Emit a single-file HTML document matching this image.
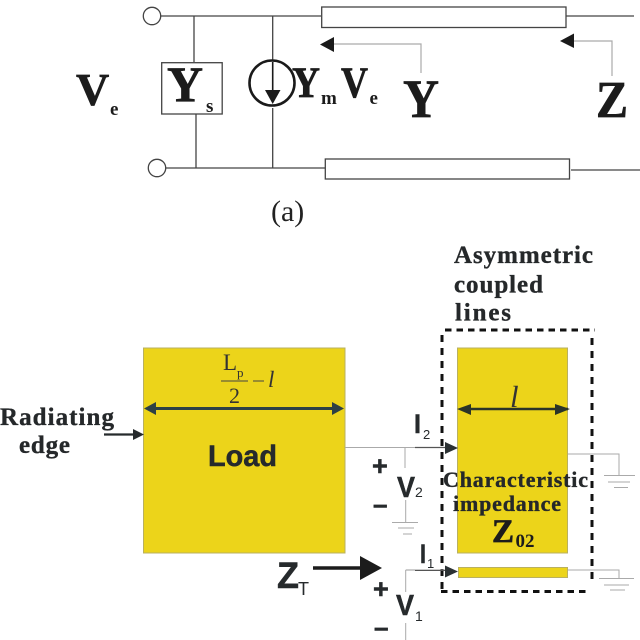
<!DOCTYPE html>
<html>
<head>
<meta charset="utf-8">
<style>
html,body{margin:0;padding:0;background:#fff}
svg{display:block}
.s{font-family:"Liberation Serif",serif;font-weight:bold;fill:#1c1c1c;stroke:#1c1c1c;stroke-width:.7}
.e{font-family:"Liberation Serif",serif;font-weight:bold;fill:#1c1c1c}
.a{font-family:"Liberation Sans",sans-serif;font-weight:bold;fill:#262a2c;stroke:#262a2c;stroke-width:.5}
.b{font-family:"Liberation Sans",sans-serif;fill:#262a2c}
.t{font-family:"Liberation Serif",serif;font-weight:bold;fill:#25282a;stroke:#25282a;stroke-width:.35}
.m{font-family:"Liberation Serif",serif;fill:#333}
</style>
</head>
<body>
<svg width="640" height="640" viewBox="0 0 640 640" xmlns="http://www.w3.org/2000/svg">
<rect width="640" height="640" fill="#fff"/>
<!-- circuit (a) -->
<g fill="none" stroke="#444" stroke-width="1.300">
<path d="M161 16H321M566 16H634M166 168H325M571 170H640"/>
<path d="M194 16V62M272.700 16V61M272.700 108V168M196 114V168"/>
<circle cx="152" cy="16" r="8.700"/>
<circle cx="157" cy="168" r="8.700"/>
<rect x="321.700" y="7" width="244.300" height="20.500"/>
<rect x="325.300" y="159" width="244.200" height="20"/>
<rect x="161.700" y="62.700" width="60.500" height="51.300"/>
</g>
<circle cx="272" cy="83" r="22.500" fill="none" stroke="#1a1a1a" stroke-width="2.600"/>
<path d="M272.700 62V92" stroke="#1a1a1a" stroke-width="1.600"/>
<path d="M265 90H280.500L272.700 104Z" fill="#1a1a1a"/>
<path d="M334 44H421V73M574 41H612V76" fill="none" stroke="#aaa" stroke-width="1.200"/>
<path d="M320 44.500L334 37V52Z M560 41L574 33.500V48Z" fill="#1a1a1a"/>
<text class="s" x="76" y="105" font-size="46">V</text>
<text class="e" x="110" y="115" font-size="19">e</text>
<text class="s" x="167" y="101" font-size="50" textLength="36" lengthAdjust="spacingAndGlyphs">Y</text>
<text class="e" x="206" y="112" font-size="19">s</text>
<text class="s" x="292" y="97" font-size="43" textLength="28" lengthAdjust="spacingAndGlyphs">Y</text>
<text class="e" x="321" y="104" font-size="19">m</text>
<text class="s" x="341" y="97" font-size="43" textLength="27" lengthAdjust="spacingAndGlyphs">V</text>
<text class="e" x="369.500" y="104" font-size="19">e</text>
<text class="s" x="403" y="117" font-size="54" textLength="36" lengthAdjust="spacingAndGlyphs">Y</text>
<text class="s" x="596" y="117" font-size="52" textLength="32" lengthAdjust="spacingAndGlyphs">Z</text>
<text x="271" y="221" font-family="'Liberation Serif',serif" font-size="30" fill="#222">(a)</text>

<!-- patch -->
<rect x="143.500" y="348" width="201.500" height="205" fill="#ecd41a" stroke="#b9b060" stroke-width="1"/>
<rect x="457.500" y="348" width="110" height="205" fill="#ecd41a" stroke="#b9b060" stroke-width="1"/>
<rect x="458.500" y="567.500" width="109" height="10" fill="#ecd41a" stroke="#b9b060" stroke-width="1"/>

<!-- dashed box -->
<path d="M445 330H595" fill="none" stroke="#111" stroke-width="3" stroke-dasharray="6.500 5"/>
<path d="M442 335V592M592 338V584" fill="none" stroke="#111" stroke-width="3" stroke-dasharray="7 6"/>
<path d="M441 591.500H590" fill="none" stroke="#111" stroke-width="3" stroke-dasharray="6.500 5"/>

<!-- fraction -->
<text class="m" x="223" y="370" font-size="23">L</text>
<text class="m" x="237" y="377" font-size="13">p</text>
<path d="M221 381H248M253 381H264" stroke="#444" stroke-width="1"/>
<text class="m" x="229" y="403" font-size="22">2</text>
<text class="m" x="268" y="387" font-style="italic" font-size="23">l</text>

<!-- dim arrows -->
<path d="M155 408.500H334" stroke="#2d4045" stroke-width="3"/>
<path d="M144 408.500L156 402V415Z M344 408.500L332 402V415Z" fill="#2d4045"/>
<path d="M468 409H568" stroke="#2a3428" stroke-width="2.500"/>
<path d="M457 409L471 404V415Z M570 409L555 404V415Z" fill="#2a3428"/>
<text class="m" x="510" y="407" font-style="italic" font-size="31" fill="#222">l</text>

<!-- radiating edge -->
<text class="t" x="0" y="425" font-size="25" textLength="114" lengthAdjust="spacing">Radiating</text>
<text class="t" x="19" y="453" font-size="25" textLength="51" lengthAdjust="spacing">edge</text>
<path d="M104 434.500H134" stroke="#262a2c" stroke-width="2.200"/>
<path d="M144 434.500L133 429V440Z" fill="#262a2c"/>
<text class="a" x="208" y="466" font-size="30" textLength="69" lengthAdjust="spacingAndGlyphs">Load</text>

<!-- title -->
<text class="t" x="454" y="263" font-size="25" textLength="139" lengthAdjust="spacing">Asymmetric</text>
<text class="t" x="454" y="292.500" font-size="25" textLength="89" lengthAdjust="spacing">coupled</text>
<text class="t" x="455" y="320.500" font-size="25" textLength="56" lengthAdjust="spacing">lines</text>

<!-- feeds -->
<path d="M345 447.500H445" stroke="#aaa" stroke-width="1"/>
<path d="M405 447.500V468M405.700 500V522" fill="none" stroke="#aaa" stroke-width="1"/>
<path d="M415 447.500H446" stroke="#555" stroke-width="1.200"/>
<path d="M458 448L445 442V454Z" fill="#2b3133"/>
<path d="M405.700 570V592M405.700 623V640" fill="none" stroke="#aaa" stroke-width="1"/>
<path d="M405.700 570H446" stroke="#999" stroke-width="1"/>
<path d="M415 570.500H446" stroke="#555" stroke-width="1"/>
<path d="M458 571.500L445 565.500V577.500Z" fill="#2b3133"/>

<!-- grounds -->
<path d="M568 454H619V475M568 570H619V578" fill="none" stroke="#aaa" stroke-width="1"/>
<path d="M604 475.500H635M608 482H630M614 487.500H628" stroke="#aaa" stroke-width="1"/>
<path d="M599 578.500H634M604 585H629M610 590H625" stroke="#aaa" stroke-width="1"/>
<path d="M392 522.500H418M398 528H414M403 534H412" stroke="#aaa" stroke-width="1"/>

<!-- labels -->
<text class="a" x="414" y="433" font-size="27" textLength="7" lengthAdjust="spacingAndGlyphs">I</text>
<text class="b" x="423" y="439" font-size="13">2</text>
<text class="a" x="372" y="475" font-size="27">+</text>
<text class="a" x="373" y="513" font-size="26">–</text>
<text class="a" x="397" y="497" font-size="29" textLength="18" lengthAdjust="spacingAndGlyphs">V</text>
<text class="b" x="415" y="497" font-size="14">2</text>
<text class="a" x="420" y="563" font-size="27" textLength="6" lengthAdjust="spacingAndGlyphs">I</text>
<text class="b" x="427" y="568" font-size="13">1</text>
<text class="a" x="373" y="598" font-size="27">+</text>
<text class="a" x="374" y="636" font-size="26">–</text>
<text class="a" x="396" y="615" font-size="29" textLength="18" lengthAdjust="spacingAndGlyphs">V</text>
<text class="b" x="415" y="621" font-size="14">1</text>

<text class="t" x="443" y="487" font-size="22" textLength="145" lengthAdjust="spacing">Characteristic</text>
<text class="t" x="453" y="511" font-size="22" textLength="108" lengthAdjust="spacing">impedance</text>
<text class="s" x="492" y="542" font-size="33" textLength="22" lengthAdjust="spacingAndGlyphs">Z</text>
<text class="e" x="515.500" y="547" font-size="19">02</text>

<!-- Z_T -->
<text class="a" x="277" y="588" font-size="37" textLength="22" lengthAdjust="spacingAndGlyphs">Z</text>
<text class="b" x="298" y="595" font-size="18">T</text>
<path d="M313 568H362" stroke="#1c1c1c" stroke-width="3.500"/>
<path d="M382 568L360 556V580Z" fill="#1c1c1c"/>
</svg>
</body>
</html>
